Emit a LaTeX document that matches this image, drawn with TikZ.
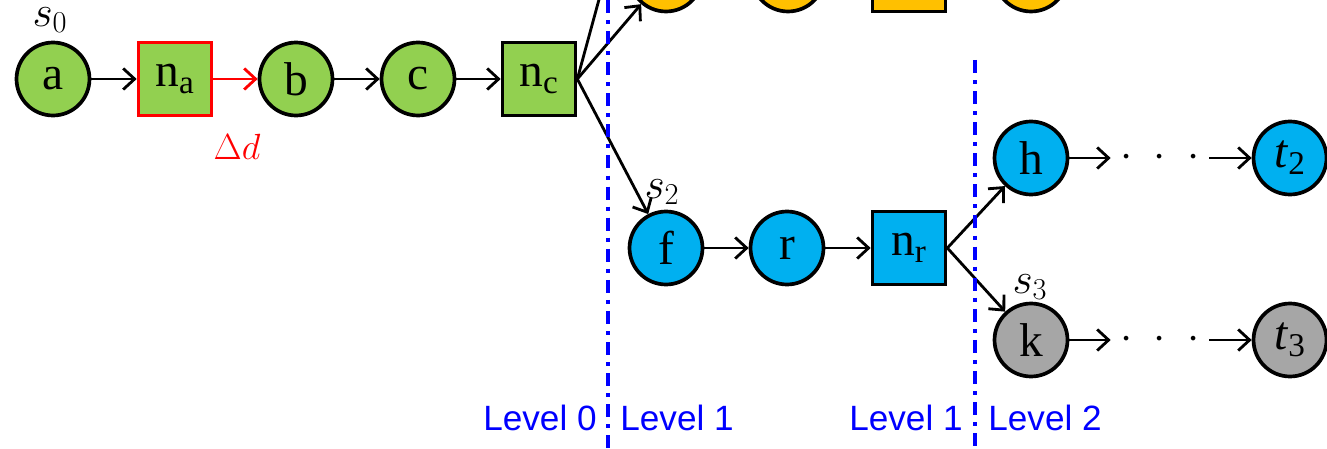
\documentclass[tikz,border=0pt]{standalone}
\usepackage{fontspec}
\setmainfont{Liberation Serif}
\newfontfamily\levelfont{Liberation Sans}
\usetikzlibrary{arrows.meta}

\definecolor{grn}{HTML}{92D050}
\definecolor{cyn}{HTML}{00B0F0}
\definecolor{ylw}{HTML}{FFC000}
\definecolor{gry}{HTML}{A6A6A6}

\begin{document}
\begin{tikzpicture}[x=0.02cm,y=-0.02cm,
  st/.style={circle,draw,line width=2.1pt,minimum size=1.46cm,inner sep=0pt,font=\fontsize{27}{30}\selectfont},
  sq/.style={rectangle,draw,line width=2.1pt,minimum size=1.46cm,inner sep=0pt,font=\fontsize{27}{30}\selectfont},
  lab/.style={font=\fontsize{24}{28}\selectfont},
  lvl/.style={text=blue,font=\levelfont\fontsize{20}{24}\selectfont,inner sep=0pt},
  cut/.style={blue,line width=1.8pt,dash pattern=on 7.4pt off 4pt on 2.3pt off 4pt},
  dots/.style={minimum width=1.96cm,inner sep=0pt,font=\fontsize{32}{36}\selectfont},
  every edge/.style={draw,line width=1.6pt},
  >={Straight Barb[length=6.5pt,width=12pt]}]

\useasboundingbox (0,0) rectangle (1327,449);
\clip (0,0) rectangle (1327,449);

% source branch
\node[st,fill=grn] (a) at (53,79) {a};
\node[sq,fill=grn,draw=red] (na) at (175,79) {n\textsubscript{a}};
\node[st,fill=grn] (b) at (296,79) {b};
\node[st,fill=grn] (c) at (418,79) {c};
\node[sq,fill=grn] (nc) at (539,79) {n\textsubscript{c}};

% upper branch, mostly off the page
\node[st,fill=ylw] (d) at (666,-25) {d};
\node[st,fill=ylw] (q) at (788,-25) {q};
\node[sq,fill=ylw] (nq) at (909,-25) {n\textsubscript{q}};
\node[st,fill=ylw] (y) at (1031,-25) {y};
\coordinate (up) at (622,-85);

% lower branch
\node[st,fill=cyn] (f) at (666,248) {f};
\node[st,fill=cyn] (r) at (787,248) {r};
\node[sq,fill=cyn] (nr) at (909,248) {n\textsubscript{r}};
\node[st,fill=cyn] (h) at (1031,158) {h};
\node[st,fill=cyn] (t2) at (1290,158) {\textit{t}\textsubscript{2}};
\node[st,fill=gry] (k) at (1031,340) {k};
\node[st,fill=gry] (t3) at (1290,340) {\textit{t}\textsubscript{3}};

\node[dots] (ht2) at (1160,158) {$\cdot\hspace{0.24cm}\cdot\hspace{0.24cm}\cdot$};
\node[dots] (kt3) at (1160,340) {$\cdot\hspace{0.24cm}\cdot\hspace{0.24cm}\cdot$};

\node[lab] (s0) at (50,20) {$s_0$};
\node[lab,text=red,font=\fontsize{21}{24}\selectfont] (dd) at (237,147) {$\Delta d$};
\node[lab] (s2) at (662,192) {$s_2$};
\node[lab] (s3) at (1030,287) {$s_3$};

\path[->] (a) edge (na) (na) edge[red] (b) (b) edge (c) (c) edge (nc)
  (nc.east) edge (d) (nc.east) edge (f) (nc.east) edge (up)
  (f) edge (r) (r) edge (nr) (nr.east) edge (h) (nr.east) edge (k)
  (h) edge (ht2) (ht2) edge (t2) (k) edge (kt3) (kt3) edge (t3);

% level boundaries
\draw[cut] (608,0) -- (608,449);
\draw[cut] (975,60) -- (975,449);

\node[lvl,anchor=base east] (l0) at (597,430) {Level 0};
\node[lvl,anchor=base west] (l1) at (620,430) {Level 1};
\node[lvl,anchor=base east] (l1b) at (963,430) {Level 1};
\node[lvl,anchor=base west] (l2) at (988,430) {Level 2};

\end{tikzpicture}
\end{document}
